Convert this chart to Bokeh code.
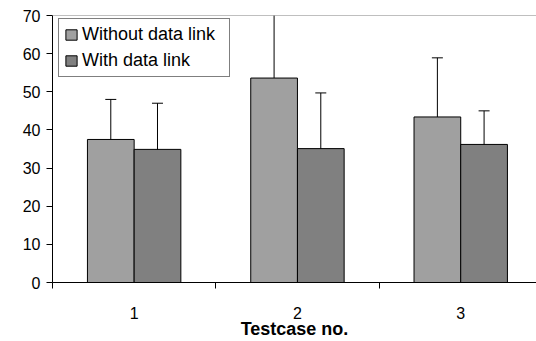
from bokeh.plotting import figure
from bokeh.models import ColumnDataSource, Whisker, FixedTicker, Span, Range1d, TeeHead
from bokeh.embed import file_html
from bokeh.resources import INLINE

categories = ["1", "2", "3"]
without_mean = [37.5, 53.6, 43.4]
without_lo = [26.6, 32.4, 27.8]
without_hi = [48.0, 70.4, 58.9]
with_mean = [34.9, 35.1, 36.2]
with_lo = [22.5, 20.6, 27.8]
with_hi = [47.0, 49.7, 45.0]
series_names = ["Without data link", "With data link"]
y_ticks = [0, 10, 20, 30, 40, 50, 60, 70]

FONT = "Liberation Sans"
bw = 0.286
base = [i + 0.5 for i in range(len(categories))]
x1 = [b - bw / 2 for b in base]
x2 = [b + bw / 2 for b in base]

p = figure(width=536, height=341, output_backend="svg", toolbar_location=None,
           x_range=Range1d(0, 2.964), y_range=Range1d(0, 70),
           min_border_left=52, min_border_right=0, min_border_top=15, min_border_bottom=58)
p.outline_line_color = None
p.grid.visible = False
p.background_fill_color = "white"

s1 = ColumnDataSource(dict(x=x1, top=without_mean, lo=without_lo, hi=without_hi))
s2 = ColumnDataSource(dict(x=x2, top=with_mean, lo=with_lo, hi=with_hi))

p.vbar(x="x", top="top", width=bw, bottom=0, source=s1, fill_color="#A0A0A0",
       line_color="black", line_width=1, legend_label=series_names[0])
p.vbar(x="x", top="top", width=bw, bottom=0, source=s2, fill_color="#808080",
       line_color="black", line_width=1, legend_label=series_names[1])

for s in (s1, s2):
    w = Whisker(base="x", upper="hi", lower="lo", source=s, line_color="black", line_width=1,
                upper_head=TeeHead(size=11, line_color="black", line_width=1),
                lower_head=TeeHead(size=11, line_color="black", line_width=1))
    p.add_layout(w)

p.add_layout(Span(location=70, dimension="width", line_color="#808080", line_width=1))

# x axis
p.xaxis.ticker = FixedTicker(ticks=base, minor_ticks=[0, 1, 2, 3])
p.xaxis.major_label_overrides = {b: c for b, c in zip(base, categories)}
p.xaxis.major_tick_out = 0
p.xaxis.major_tick_in = 0
p.xaxis.minor_tick_out = 6
p.xaxis.minor_tick_in = 0
p.xaxis.minor_tick_line_color = "black"
p.xaxis.axis_line_color = "black"
p.xaxis.major_label_standoff = 18
p.xaxis.major_label_text_font = FONT
p.xaxis.major_label_text_font_size = "16px"
p.xaxis.major_label_text_color = "black"
p.xaxis.axis_label = "Testcase no."
p.xaxis.axis_label_text_font = FONT
p.xaxis.axis_label_text_font_size = "18px"
p.xaxis.axis_label_text_font_style = "bold"
p.xaxis.axis_label_text_color = "black"
p.xaxis.axis_label_standoff = -3

# y axis
p.yaxis.ticker = FixedTicker(ticks=y_ticks)
p.yaxis.major_tick_out = 6
p.yaxis.major_tick_in = 0
p.yaxis.minor_tick_line_color = None
p.yaxis.axis_line_color = "black"
p.yaxis.major_tick_line_color = "black"
p.yaxis.major_label_standoff = 6
p.yaxis.major_label_text_font = FONT
p.yaxis.major_label_text_font_size = "16px"
p.yaxis.major_label_text_color = "black"

lg = p.legend[0]
lg.location = (6, 205)
lg.margin = 0
lg.padding = 5
lg.spacing = 5
lg.label_height = 20
lg.label_width = 142
lg.glyph_width = 14
lg.glyph_height = 13
lg.label_standoff = 4
lg.label_text_font = FONT
lg.label_text_font_size = "18px"
lg.label_text_color = "black"
lg.border_line_color = "black"
lg.border_line_width = 1
lg.background_fill_color = "white"
lg.background_fill_alpha = 1

open("out.html", "w").write(file_html(p, INLINE))
